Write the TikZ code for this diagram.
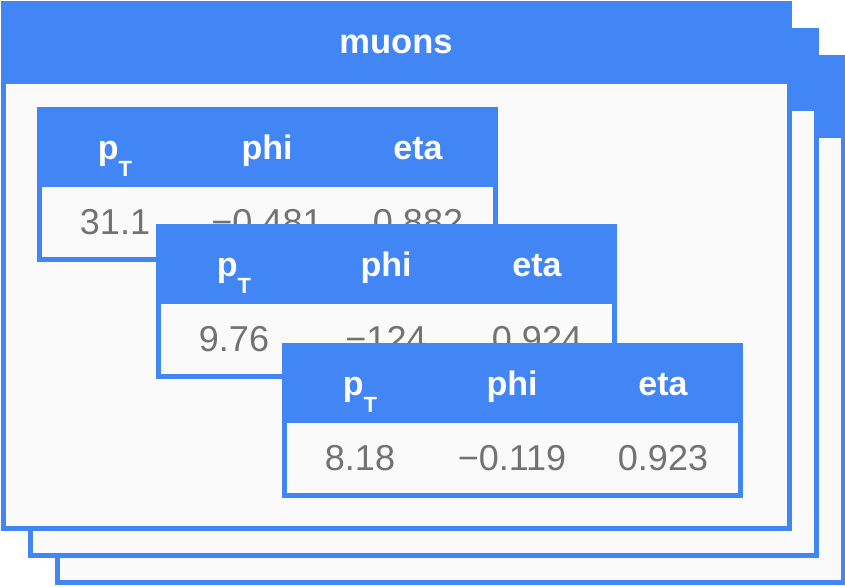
\documentclass[tikz,border=0pt]{standalone}
\usepackage{fontspec}
\setmainfont{Liberation Sans}
\definecolor{gblue}{HTML}{4285F4}
\definecolor{panelbg}{HTML}{FAFAFA}
\definecolor{valgray}{HTML}{727272}
\tikzset{
  panelbox/.style={draw=gblue, line width=5pt, fill=panelbg},
  headfill/.style={fill=gblue},
  headtxt/.style={text=white, font=\fontsize{34}{34}\selectfont\bfseries, anchor=base, inner sep=0pt},
  valtxt/.style={text=valgray, font=\fontsize{36}{36}\selectfont, anchor=base, inner sep=0pt},
  titletxt/.style={text=white, font=\fontsize{34.5}{34}\selectfont\bfseries, anchor=base, inner sep=0pt},
}
\newcommand\myPT{p\raisebox{-17pt}{\fontsize{22}{22}\selectfont T}}
% #1 name, #2 x0, #3 y0, #4 pt, #5 phi, #6 eta
\newcommand\mytable[6]{%
  \fill[panelbg] (#2,#3) rectangle ++(461,155);
  \fill[headfill] (#2,#3) rectangle ++(461,80);
  \draw[draw=gblue, line width=5pt] (#2+2.5,#3+2.5) rectangle (#2+458.5,#3+152.5);
  \node[headtxt] (#1h1) at (#2+78,#3+52) {\myPT};
  \node[headtxt] (#1h2) at (#2+230,#3+52) {phi};
  \node[headtxt] (#1h3) at (#2+381,#3+52) {eta};
  \node[valtxt] (#1v1) at (#2+78,#3+127) {#4};
  \node[valtxt] (#1v2) at (#2+230,#3+127) {#5};
  \node[valtxt] (#1v3) at (#2+381,#3+127) {#6};
}
\begin{document}
\begin{tikzpicture}[x=1pt,y=-1pt]
\useasboundingbox (0,0) rectangle (845,586);
% stacked panels (back to front)
\foreach \o in {54,27,0}{
  \fill[panelbg] (1+\o,1+\o) rectangle (792+\o,531+\o);
  \fill[gblue] (1+\o,1+\o) rectangle (792+\o,84+\o);
  \draw[draw=gblue, line width=5pt] (3.5+\o,3.5+\o) rectangle (789.5+\o,528.5+\o);
}
\node[titletxt] (title) at (396,53) {muons};
\mytable{ta}{37}{107}{31.1}{−0.481}{0.882}
\mytable{tb}{156}{224}{9.76}{−124}{0.924}
\mytable{tc}{282}{343}{8.18}{−0.119}{0.923}
\end{tikzpicture}
\end{document}
